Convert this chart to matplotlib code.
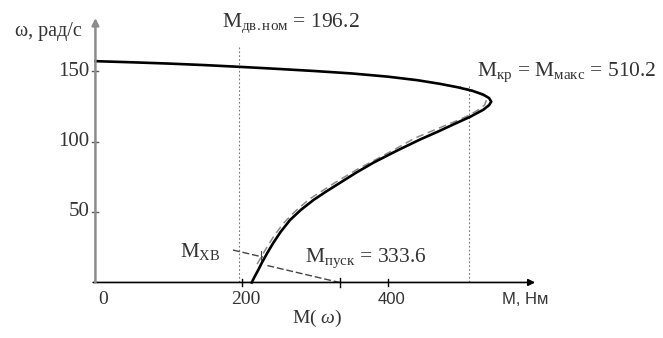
import matplotlib
matplotlib.use("Agg")
import matplotlib.pyplot as plt

plt.rcParams['font.family'] = ['Liberation Serif', 'DejaVu Serif']
plt.rcParams['mathtext.fontset'] = 'custom'
plt.rcParams['mathtext.rm'] = 'Liberation Serif'
plt.rcParams['mathtext.it'] = 'Liberation Serif:italic'

# mechanical characteristic M(omega)
m_main = [0, 50, 100, 150, 200, 250, 300, 350, 400, 440, 470, 495, 515, 530, 538, 541,
          538, 530, 512, 490, 468, 444, 412, 380, 356, 334, 315, 298, 281, 266,
          253, 243, 235, 228, 222.6, 218, 213.6]
w_main = [157, 156.2, 155.3, 154.2, 152.9, 151.5, 150, 148.3, 146, 143.5, 141, 138.5, 136, 133.3, 130.8, 128.3,
          125.8, 122.5, 117.5, 112.3, 107, 101.5, 93.5, 85, 77.8, 70.6, 64.4, 58.5, 51.6, 44.3,
          35.8, 28, 21, 14.5, 8.9, 4.5, 0]

# second (dashed) characteristic
m_alt = [221, 232, 244, 257, 272, 292, 328, 357, 404, 437, 474, 495, 512, 525, 532, 534, 530, 518, 498]
w_alt = [13, 23, 33, 42, 50, 59, 71, 80, 93, 102.5, 110.5, 115, 119, 123, 126, 129, 132.5, 135.8, 139]

m_nom = 196.2
m_crit = 510.2
m_start = 333.6

y_ticks = [50, 100, 150]
x_ticks = [0, 200, 400]

fig = plt.figure(figsize=(6.63, 3.38), dpi=100)
ax = fig.add_axes([0, 0, 1, 1])
ax.set_xlim(-130.4, 775.7)
ax.set_ylim(-39.4, 200.4)
ax.axis('off')

# axes with arrows
ax.annotate('', xy=(601, 0), xytext=(-3, 0),
            arrowprops=dict(arrowstyle='-|>', color='black', lw=1.2,
                            mutation_scale=10, shrinkA=0, shrinkB=0))
ax.annotate('', xy=(0, 187.6), xytext=(0, 0),
            arrowprops=dict(arrowstyle='-|>', color='#8c8c8c', lw=1.8,
                            mutation_scale=10, shrinkA=0, shrinkB=0))

for t in y_ticks:
    ax.plot([-5, 4], [t, t], color='#555555', lw=1)
    ax.text(-8.5, t, str(t), ha='right', va='center', fontsize=15, color='#333333')
for t in x_ticks[1:]:
    ax.plot([t, t], [-2.5, 2.5], color='black', lw=1)
ax.text(10.4, -12.4, '0', ha='center', va='center', fontsize=14, color='#333333')
ax.text(205.4, -12.4, '200', ha='center', va='center', fontsize=14, color='#333333')
ax.text(405, -12.4, '400', ha='center', va='center', fontsize=12,
        color='#333333', family='Liberation Sans')
ax.text(587, -12.4, 'M, Нм', ha='center', va='center', fontsize=12,
        color='#333333', family='Liberation Sans')
ax.text(303, -25.2, r'M( $\omega$)', ha='center', va='center', fontsize=14, color='#333333')
ax.text(-64.8, 177.7, 'ω, рад/с', ha='center', va='center', fontsize=14.5, color='#333333')

# reference lines
ax.plot([m_nom, m_nom], [0, 167], color='#777777', lw=0.8, ls=(0, (1.5, 2)))
ax.plot([m_crit, m_crit], [0, 140], color='#777777', lw=0.8, ls=(0, (1.5, 2)))

# characteristics
ax.plot(m_alt, w_alt, color='#8a8a8a', lw=1.1, ls=(0, (5, 3)))
ax.plot(m_main, w_main, color='black', lw=1.9, solid_joinstyle='round')

# annotations
ax.text(173, 184, r'$\mathrm{M}_{\mathrm{дв.ном}}$ = 196.2', ha='left', va='center',
        fontsize=15.5, color='#333333')
ax.text(521.5, 149.3, r'$\mathrm{M}_{\mathrm{кр}}$ = $\mathrm{M}_{\mathrm{макс}}$ = 510.2',
        ha='left', va='center', fontsize=15.5, color='#333333')
ax.text(143, 22, r'$\mathrm{M}_{\mathrm{ХВ}}$', ha='center', va='center',
        fontsize=15, color='#333333')
ax.text(286, 17.4, r'$\mathrm{M}_{\mathrm{пуск}}$ = 333.6', ha='left', va='center',
        fontsize=15.5, color='#333333')

ax.plot([188, 229], [23, 18], color='#444444', lw=1, ls=(0, (5, 2)))
ax.plot([226, 226], [16, 22], color='#444444', lw=0.8)
ax.plot([235, m_start], [12, 0], color='#444444', lw=1, ls=(0, (5, 2)))
ax.plot([m_start, m_start], [-3.5, 3.5], color='black', lw=1)

fig.savefig('out.png', dpi=100)
